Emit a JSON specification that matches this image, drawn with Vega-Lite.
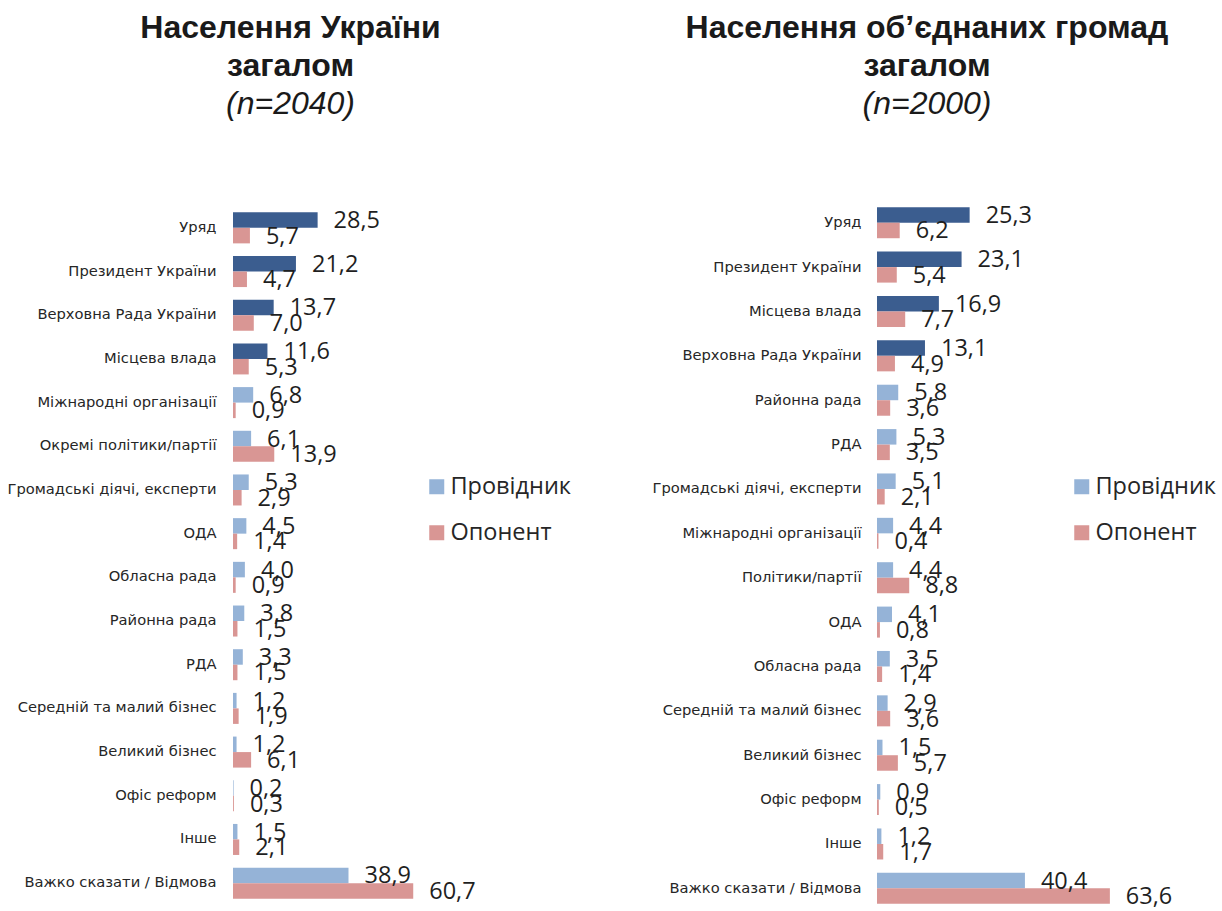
{
  "$schema": "https://vega.github.io/schema/vega-lite/v6.json",
  "padding": {"left": 0, "top": 12, "right": 0, "bottom": 0},
  "background": "white",
  "config": {
    "locale": {"number": {"decimal": ",", "thousands": " ", "grouping": [3], "currency": ["", ""]}},
    "view": {"stroke": null},
    "font": "Open Sans",
    "title": {"font": "Liberation Sans", "fontSize": 32, "fontWeight": "bold", "color": "#1a1a1a", "lineHeight": 38, "subtitleFont": "Liberation Sans", "subtitleFontSize": 32, "subtitleFontStyle": "italic", "subtitleFontWeight": "normal", "subtitleColor": "#1a1a1a", "subtitlePadding": 6, "anchor": "middle", "frame": "group", "offset": 80},
    "legend": {"orient": "none", "title": null, "symbolType": "square", "symbolSize": 225, "symbolStrokeWidth": 0, "labelFont": "Open Sans", "labelFontSize": 23.5, "labelColor": "#262626", "rowPadding": 21, "labelOffset": 2},
    "axisY": {"domain": false, "ticks": false, "grid": false, "labelFont": "DejaVu Sans", "labelFontSize": 14.7, "labelColor": "#262626", "labelLimit": 400, "title": null}
  },
  "datasets": {
    "ukraine": [
      {"rank": 1, "category": "Уряд", "series": "Провідник", "value": 28.5},
      {"rank": 1, "category": "Уряд", "series": "Опонент", "value": 5.7},
      {"rank": 2, "category": "Президент України", "series": "Провідник", "value": 21.2},
      {"rank": 2, "category": "Президент України", "series": "Опонент", "value": 4.7},
      {"rank": 3, "category": "Верховна Рада України", "series": "Провідник", "value": 13.7},
      {"rank": 3, "category": "Верховна Рада України", "series": "Опонент", "value": 7.0},
      {"rank": 4, "category": "Місцева влада", "series": "Провідник", "value": 11.6},
      {"rank": 4, "category": "Місцева влада", "series": "Опонент", "value": 5.3},
      {"rank": 5, "category": "Міжнародні організації", "series": "Провідник", "value": 6.8},
      {"rank": 5, "category": "Міжнародні організації", "series": "Опонент", "value": 0.9},
      {"rank": 6, "category": "Окремі політики/партії", "series": "Провідник", "value": 6.1},
      {"rank": 6, "category": "Окремі політики/партії", "series": "Опонент", "value": 13.9},
      {"rank": 7, "category": "Громадські діячі, експерти", "series": "Провідник", "value": 5.3},
      {"rank": 7, "category": "Громадські діячі, експерти", "series": "Опонент", "value": 2.9},
      {"rank": 8, "category": "ОДА", "series": "Провідник", "value": 4.5},
      {"rank": 8, "category": "ОДА", "series": "Опонент", "value": 1.4},
      {"rank": 9, "category": "Обласна рада", "series": "Провідник", "value": 4.0},
      {"rank": 9, "category": "Обласна рада", "series": "Опонент", "value": 0.9},
      {"rank": 10, "category": "Районна рада", "series": "Провідник", "value": 3.8},
      {"rank": 10, "category": "Районна рада", "series": "Опонент", "value": 1.5},
      {"rank": 11, "category": "РДА", "series": "Провідник", "value": 3.3},
      {"rank": 11, "category": "РДА", "series": "Опонент", "value": 1.5},
      {"rank": 12, "category": "Середній та малий бізнес", "series": "Провідник", "value": 1.2},
      {"rank": 12, "category": "Середній та малий бізнес", "series": "Опонент", "value": 1.9},
      {"rank": 13, "category": "Великий бізнес", "series": "Провідник", "value": 1.2},
      {"rank": 13, "category": "Великий бізнес", "series": "Опонент", "value": 6.1},
      {"rank": 14, "category": "Офіс реформ", "series": "Провідник", "value": 0.2},
      {"rank": 14, "category": "Офіс реформ", "series": "Опонент", "value": 0.3},
      {"rank": 15, "category": "Інше", "series": "Провідник", "value": 1.5},
      {"rank": 15, "category": "Інше", "series": "Опонент", "value": 2.1},
      {"rank": 16, "category": "Важко сказати / Відмова", "series": "Провідник", "value": 38.9},
      {"rank": 16, "category": "Важко сказати / Відмова", "series": "Опонент", "value": 60.7}
    ],
    "otg": [
      {"rank": 1, "category": "Уряд", "series": "Провідник", "value": 25.3},
      {"rank": 1, "category": "Уряд", "series": "Опонент", "value": 6.2},
      {"rank": 2, "category": "Президент України", "series": "Провідник", "value": 23.1},
      {"rank": 2, "category": "Президент України", "series": "Опонент", "value": 5.4},
      {"rank": 3, "category": "Місцева влада", "series": "Провідник", "value": 16.9},
      {"rank": 3, "category": "Місцева влада", "series": "Опонент", "value": 7.7},
      {"rank": 4, "category": "Верховна Рада України", "series": "Провідник", "value": 13.1},
      {"rank": 4, "category": "Верховна Рада України", "series": "Опонент", "value": 4.9},
      {"rank": 5, "category": "Районна рада", "series": "Провідник", "value": 5.8},
      {"rank": 5, "category": "Районна рада", "series": "Опонент", "value": 3.6},
      {"rank": 6, "category": "РДА", "series": "Провідник", "value": 5.3},
      {"rank": 6, "category": "РДА", "series": "Опонент", "value": 3.5},
      {"rank": 7, "category": "Громадські діячі, експерти", "series": "Провідник", "value": 5.1},
      {"rank": 7, "category": "Громадські діячі, експерти", "series": "Опонент", "value": 2.1},
      {"rank": 8, "category": "Міжнародні організації", "series": "Провідник", "value": 4.4},
      {"rank": 8, "category": "Міжнародні організації", "series": "Опонент", "value": 0.4},
      {"rank": 9, "category": "Політики/партії", "series": "Провідник", "value": 4.4},
      {"rank": 9, "category": "Політики/партії", "series": "Опонент", "value": 8.8},
      {"rank": 10, "category": "ОДА", "series": "Провідник", "value": 4.1},
      {"rank": 10, "category": "ОДА", "series": "Опонент", "value": 0.8},
      {"rank": 11, "category": "Обласна рада", "series": "Провідник", "value": 3.5},
      {"rank": 11, "category": "Обласна рада", "series": "Опонент", "value": 1.4},
      {"rank": 12, "category": "Середній та малий бізнес", "series": "Провідник", "value": 2.9},
      {"rank": 12, "category": "Середній та малий бізнес", "series": "Опонент", "value": 3.6},
      {"rank": 13, "category": "Великий бізнес", "series": "Провідник", "value": 1.5},
      {"rank": 13, "category": "Великий бізнес", "series": "Опонент", "value": 5.7},
      {"rank": 14, "category": "Офіс реформ", "series": "Провідник", "value": 0.9},
      {"rank": 14, "category": "Офіс реформ", "series": "Опонент", "value": 0.5},
      {"rank": 15, "category": "Інше", "series": "Провідник", "value": 1.2},
      {"rank": 15, "category": "Інше", "series": "Опонент", "value": 1.7},
      {"rank": 16, "category": "Важко сказати / Відмова", "series": "Провідник", "value": 40.4},
      {"rank": 16, "category": "Важко сказати / Відмова", "series": "Опонент", "value": 63.6}
    ]
  },
  "spacing": 79,
  "resolve": {"scale": {"color": "independent", "x": "independent", "y": "independent"}, "legend": {"color": "independent"}},
  "hconcat": [
    {
      "data": {"name": "ukraine"},
      "width": 193,
      "height": 709,
      "title": {"text": ["Населення України", "загалом"], "subtitle": "(n=2040)", "dx": -39},
      "encoding": {
        "y": {"field": "category", "type": "nominal", "sort": {"field": "rank", "op": "min"}, "scale": {"paddingInner": 0.29, "paddingOuter": 0.26}, "axis": {"labelPadding": 17, "minExtent": 233, "maxExtent": 233}},
        "yOffset": {"field": "series", "type": "nominal", "sort": ["Провідник", "Опонент"], "scale": {"paddingInner": 0, "paddingOuter": 0}},
        "x": {"field": "value", "type": "quantitative", "scale": {"domain": [0, 65], "nice": false}, "axis": null}
      },
      "layer": [
        {
          "mark": {"type": "bar"},
          "encoding": {
            "color": {
              "condition": {"test": "datum.series === 'Провідник' && datum.rank <= 4", "value": "#3B5D8F"},
              "field": "series", "type": "nominal",
              "scale": {"domain": ["Провідник", "Опонент"], "range": ["#95B3D7", "#D99694"]},
              "legend": {"legendX": 192, "legendY": 274}
            }
          }
        },
        {
          "mark": {"type": "text", "align": "left", "baseline": "middle", "dx": 16, "dy": 1, "fontSize": 23.5, "font": "Open Sans", "color": "#1f1f1f"},
          "encoding": {"text": {"field": "value", "type": "quantitative", "format": ".1f"}}
        }
      ]
    },
    {
      "data": {"name": "otg"},
      "width": 238,
      "height": 710,
      "title": {"text": ["Населення об’єднаних громад", "загалом"], "subtitle": "(n=2000)", "dx": -69},
      "encoding": {
        "y": {"field": "category", "type": "nominal", "sort": {"field": "rank", "op": "min"}, "scale": {"paddingInner": 0.28, "paddingOuter": 0.14}, "axis": {"labelPadding": 16, "minExtent": 200, "maxExtent": 200}},
        "yOffset": {"field": "series", "type": "nominal", "sort": ["Провідник", "Опонент"], "scale": {"paddingInner": 0, "paddingOuter": 0}},
        "x": {"field": "value", "type": "quantitative", "scale": {"domain": [0, 65], "nice": false}, "axis": null}
      },
      "layer": [
        {
          "mark": {"type": "bar"},
          "encoding": {
            "color": {
              "condition": {"test": "datum.series === 'Провідник' && datum.rank <= 4", "value": "#3B5D8F"},
              "field": "series", "type": "nominal",
              "scale": {"domain": ["Провідник", "Опонент"], "range": ["#95B3D7", "#D99694"]},
              "legend": {"legendX": 193, "legendY": 274}
            }
          }
        },
        {
          "mark": {"type": "text", "align": "left", "baseline": "middle", "dx": 16, "dy": 1, "fontSize": 23.5, "font": "Open Sans", "color": "#1f1f1f"},
          "encoding": {"text": {"field": "value", "type": "quantitative", "format": ".1f"}}
        }
      ]
    }
  ]
}
